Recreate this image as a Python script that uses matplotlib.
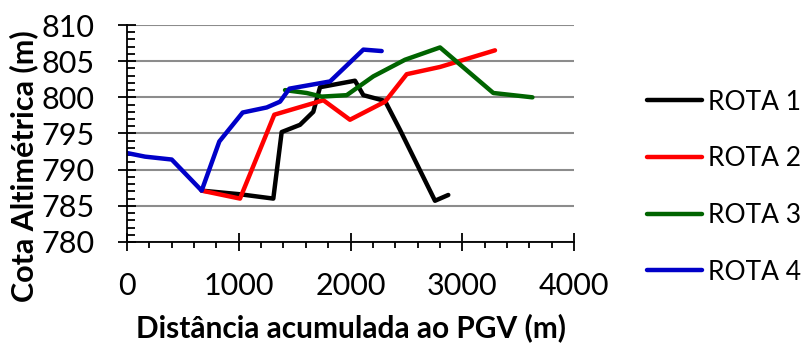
import matplotlib.pyplot as plt
from matplotlib.ticker import MultipleLocator

plt.rcParams['font.family'] = ['Lato', 'DejaVu Sans']

# Route profiles: accumulated distance [m] and elevation [m]
rota1_x = [668, 1010, 1309, 1384, 1548, 1667, 1727, 2040, 2115, 2309, 2443, 2756, 2875]
rota1_y = [787.1, 786.6, 786.0, 795.2, 796.2, 798.0, 801.4, 802.3, 800.3, 799.5, 795.5, 785.7, 786.5]

rota2_x = [668, 1011, 1318, 1757, 1995, 2309, 2503, 2801, 3293]
rota2_y = [787.1, 786.0, 797.6, 799.6, 796.9, 799.4, 803.2, 804.2, 806.5]

rota3_x = [1414, 1608, 1742, 1966, 2204, 2488, 2801, 3278, 3628]
rota3_y = [801.0, 800.6, 800.1, 800.3, 802.9, 805.2, 806.9, 800.6, 800.0]

rota4_x = [0, 161, 400, 668, 826, 1035, 1250, 1369, 1453, 1817, 2115, 2279]
rota4_y = [792.3, 791.8, 791.4, 787.1, 793.9, 797.9, 798.6, 799.4, 801.2, 802.2, 806.6, 806.4]

series = [
    ("ROTA 1", rota1_x, rota1_y, "#000000"),
    ("ROTA 2", rota2_x, rota2_y, "#ff0000"),
    ("ROTA 3", rota3_x, rota3_y, "#006400"),
    ("ROTA 4", rota4_x, rota4_y, "#0000c8"),
]

fig = plt.figure(figsize=(8.02, 3.45), dpi=100)
ax = fig.add_axes([0.1584, 0.2986, 0.5573, 0.6289])

for label, xs, ys, color in series:
    ax.plot(xs, ys, color=color, lw=3.2, label=label, solid_capstyle="round",
            solid_joinstyle="round")

ax.set_xlim(0, 4000)
ax.set_ylim(780, 810)
ax.xaxis.set_major_locator(MultipleLocator(1000))
ax.xaxis.set_minor_locator(MultipleLocator(200))
ax.yaxis.set_major_locator(MultipleLocator(5))
ax.yaxis.set_minor_locator(MultipleLocator(1))

ax.tick_params(which="major", direction="inout", length=13, width=1.3,
               labelsize=22)
ax.tick_params(axis="x", which="major", pad=15)
ax.tick_params(axis="y", which="major", pad=17)
ax.tick_params(axis="x", which="minor", direction="out", length=4.5, width=1.3)
ax.tick_params(axis="y", which="minor", direction="in", length=6, width=1.3)

ax.grid(axis="y", which="major", color="#8c8c8c", lw=1.5)
ax.set_axisbelow(True)
for side in ("top", "right"):
    ax.spines[side].set_visible(False)
for side in ("left", "bottom"):
    ax.spines[side].set_linewidth(1.3)

ax.set_xlabel("Distância acumulada ao PGV (m)", fontsize=21.5, fontweight="bold")
ax.set_ylabel("Cota Altimétrica (m)", fontsize=22, fontweight="bold")
ax.xaxis.set_label_coords(0.5, -0.33)
ax.yaxis.set_label_coords(-0.199, 0.35)

ax.legend(loc="center left", bbox_to_anchor=(1.163, 0.253), frameon=False,
          fontsize=19, handlelength=2.1, handletextpad=0.2, labelspacing=1.2,
          borderpad=0, borderaxespad=0)

fig.savefig("out.png", dpi=100)
